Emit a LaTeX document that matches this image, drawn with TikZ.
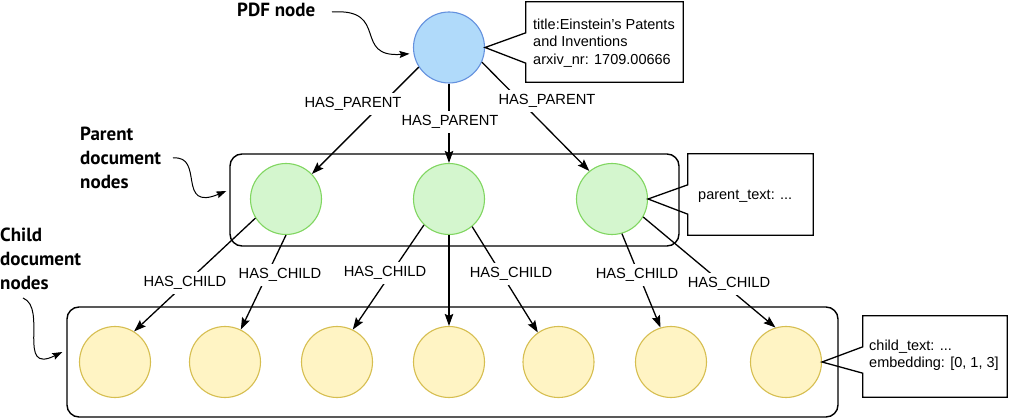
\documentclass[tikz,border=0pt]{standalone}
\usepackage{fontspec}
\setmainfont{Liberation Sans}
\newfontfamily\annofont{PT Sans}
\usetikzlibrary{arrows.meta,calc}

\definecolor{pdffill}{RGB}{176,218,250}
\definecolor{pdfdraw}{RGB}{100,145,222}
\definecolor{parfill}{RGB}{212,246,206}
\definecolor{pardraw}{RGB}{128,214,96}
\definecolor{chfill}{RGB}{255,244,196}
\definecolor{chdraw}{RGB}{214,190,80}

\begin{document}
\begin{tikzpicture}[x=1pt,y=-1pt,
  circ/.style={circle, minimum size=71pt, inner sep=0pt, line width=1.1pt},
  pdfnode/.style={circ, fill=pdffill, draw=pdfdraw},
  parnode/.style={circ, fill=parfill, draw=pardraw},
  chnode/.style={circ, fill=chfill, draw=chdraw},
  group/.style={draw, line width=1.4pt, rounded corners=12pt, inner sep=0pt},
  rel/.style={line width=1.3pt, -{Stealth[length=12pt,width=8.5pt,inset=2pt]}},
  lbl/.style={fill=white, inner xsep=2pt, inner ysep=4pt, font=\fontsize{14.7}{17}\selectfont},
  infobox/.style={minimum width=#1, inner sep=0pt},
  callout/.style={draw, line width=1.3pt, line join=miter},
  infotext/.style={align=left, anchor=west, inner sep=0pt, font=\fontsize{14.5}{17.5}\selectfont},
  anno/.style={align=left, inner sep=0pt, font=\annofont\bfseries\fontsize{19}{24}\selectfont},
  annoarrow/.style={line width=1pt, -{Stealth[length=10pt,width=7pt,inset=1.5pt]}},
]
\useasboundingbox (0,0) rectangle (1009,419);

% groups
\node[group, minimum width=449pt, minimum height=92pt] (pgroup) at (454.5,200) {};
\node[group, minimum width=771pt, minimum height=110pt] (cgroup) at (452.5,362) {};

% nodes
\node[pdfnode] (pdf) at (449,47.5) {};
\node[parnode] (p1) at (286,199) {};
\node[parnode] (p2) at (449,199) {};
\node[parnode] (p3) at (612,199) {};
\node[chnode] (c1) at (115,362) {};
\node[chnode] (c2) at (225,362) {};
\node[chnode] (c3) at (337,362) {};
\node[chnode] (c4) at (449,362) {};
\node[chnode] (c5) at (558.5,362) {};
\node[chnode] (c6) at (671,362) {};
\node[chnode] (c7) at (786,362) {};

% relations
\draw[rel] (pdf.213) -- (p1.44);
\draw[rel] (pdf.south) -- (p2.north);
\draw[rel] (pdf.336) -- (p3.129);
\draw[rel] (p1.212) -- (c1.58);
\draw[rel] (p1.south) -- (c2.64);
\draw[rel] (p2.226) -- (c3.64);
\draw[rel] (p2.south) -- (c4.north);
\draw[rel] (p2.310) -- (c5.125);
\draw[rel] (p3.286) -- (c6.107);
\draw[rel] (p3.330) -- (c7.107);

% relation labels
\node[lbl] (lp1) at (353,104) {HAS\_PARENT};
\node[lbl] (lp2) at (450,122) {HAS\_PARENT};
\node[lbl] (lp3) at (547,101) {HAS\_PARENT};
\node[lbl] (lc1) at (185,283) {HAS\_CHILD};
\node[lbl] (lc2) at (280,275) {HAS\_CHILD};
\node[lbl] (lc3) at (385,273) {HAS\_CHILD};
\node[lbl] (lc5) at (511,274) {HAS\_CHILD};
\node[lbl] (lc6) at (637,275) {HAS\_CHILD};
\node[lbl] (lc7) at (729,284) {HAS\_CHILD};

% callouts
\node[infobox=157pt, minimum height=80pt] (pdfinfo) at (604.5,42) {};
\draw[callout] (pdfinfo.north west) -- (pdfinfo.north east) -- (pdfinfo.south east)
  -- (pdfinfo.south west) -- ++(0,-19) -- (pdf.east) -- ($(pdfinfo.north west)+(0,31)$) -- cycle;
\node[infotext] (pdfinfotext) at (533,43) {title:Einstein’s Patents\\and Inventions\\arxiv\_nr: 1709.00666};

\node[infobox=125pt, minimum height=81pt] (parinfo) at (750.5,194.5) {};
\draw[callout] (parinfo.north west) -- (parinfo.north east) -- (parinfo.south east)
  -- (parinfo.south west) -- ++(0,-21) -- (p3.east) -- ($(parinfo.north west)+(0,31)$) -- cycle;
\node[infotext] (parinfotext) at (698,196) {parent\_text: ...};

\node[infobox=144pt, minimum height=81pt] (chinfo) at (935,356.5) {};
\draw[callout] (chinfo.north west) -- (chinfo.north east) -- (chinfo.south east)
  -- (chinfo.south west) -- ++(0,-24) -- (c7.east) -- ($(chinfo.north west)+(0,31)$) -- cycle;
\node[infotext] (chinfotext) at (869,355.5) {child\_text: ...\\embedding: [0, 1, 3]};

% annotations
\node[anno, anchor=west] (apdf) at (237,10) {PDF node};
\node[anno, anchor=north west] (apar) at (80,127) {Parent\\document\\nodes};
\node[anno, anchor=north west] (achild) at (0,228) {Child\\document\\nodes};

\coordinate (apdfs) at (332,12);
\coordinate (apars) at (173,158);
\coordinate (achs) at (23,298);
\draw[annoarrow] (apdfs) .. controls (390,8) and (352,58) .. ([xshift=-4pt]pdf.190);
\draw[annoarrow] (apars) .. controls (205,155) and (176,212) .. ([xshift=-3pt,yshift=9pt]pgroup.west);
\draw[annoarrow] (achs) .. controls (48,308) and (16,375) .. ([xshift=-4pt,yshift=10pt]cgroup.west);
\end{tikzpicture}
\end{document}
